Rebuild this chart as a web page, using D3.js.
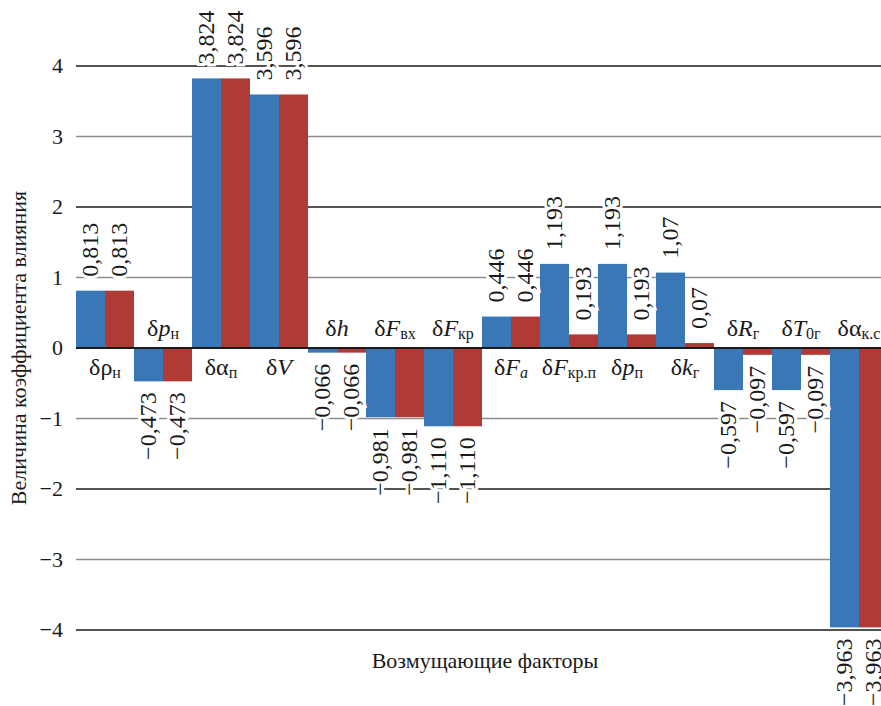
<!DOCTYPE html>
<html>
<head>
<meta charset="utf-8">
<script src="https://cdn.jsdelivr.net/npm/d3@7"></script>
</head>
<body style="margin:0">
<script>
// factor symbols and their subscripts
const catSymbol = ["ρ", "p", "α", "V", "h", "F", "F", "F", "F", "p", "k", "R", "T", "α"];
const catIndex = ["н", "н", "п", "", "", "вх", "кр", "a", "кр.п", "п", "г", "г", "0г", "к.с"];

const blueValues = [0.813, -0.473, 3.824, 3.596, -0.066, -0.981, -1.110, 0.446, 1.193, 1.193, 1.07, -0.597, -0.597, -3.963];
const redValues = [0.813, -0.473, 3.824, 3.596, -0.066, -0.981, -1.110, 0.446, 0.193, 0.193, 0.07, -0.097, -0.097, -3.963];
const blueLabels = ["0,813", "−0,473", "3,824", "3,596", "−0,066", "−0,981", "−1,110", "0,446", "1,193", "1,193", "1,07", "−0,597", "−0,597", "−3,963"];
const redLabels = ["0,813", "−0,473", "3,824", "3,596", "−0,066", "−0,981", "−1,110", "0,446", "0,193", "0,193", "0,07", "−0,097", "−0,097", "−3,963"];

const yTicks = [-4, -3, -2, -1, 0, 1, 2, 3, 4];
const yTitle = "Величина коэффициента влияния";
const xTitle = "Возмущающие факторы";

const W = 881, H = 706;
const left = 76, groupW = 58;
const FONT = `"Liberation Serif"`;
const ink = "#1a1a1a";

const svg = d3.select("body").append("svg").attr("width", W).attr("height", H);

const x = d3.scaleBand().domain(d3.range(catSymbol.length)).range([left, left + groupW * catSymbol.length]).padding(0);
const xs = d3.scaleBand().domain(["b", "r"]).range([0, x.bandwidth()]);
const y = d3.scaleLinear().domain([-4, 4]).range([630, 66]);

// grid lines
svg.append("g").selectAll("line")
  .data(yTicks)
  .join("line")
  .attr("x1", left).attr("x2", W)
  .attr("y1", d => y(d)).attr("y2", d => y(d))
  .attr("stroke", d => d % 2 === 0 ? ink : "#8c8c8c")
  .attr("stroke-width", d => d === 0 ? 2 : 1.6);

// tick labels
svg.append("g").selectAll("text")
  .data(yTicks)
  .join("text")
  .attr("x", left - 13)
  .attr("y", d => y(d))
  .attr("dy", "0.32em")
  .attr("text-anchor", "end")
  .attr("fill", ink)
  .style("font-family", FONT)
  .style("font-size", "22px")
  .text(d => d < 0 ? "−" + Math.abs(d) : d);

const series = [
  { key: "b", values: blueValues, labels: blueLabels, fill: "#3a77b6" },
  { key: "r", values: redValues, labels: redLabels, fill: "#b03a36" },
];

for (const s of series) {
  svg.append("g").selectAll("rect")
    .data(s.values)
    .join("rect")
    .attr("x", (d, i) => x(i) + xs(s.key))
    .attr("width", xs.bandwidth())
    .attr("y", d => y(Math.max(0, d)))
    .attr("height", d => Math.abs(y(d) - y(0)))
    .attr("fill", s.fill);
}

// zero line on top of bars
svg.append("line")
  .attr("x1", left).attr("x2", W)
  .attr("y1", y(0)).attr("y2", y(0))
  .attr("stroke", ink).attr("stroke-width", 2);

// value labels, rotated
for (const s of series) {
  svg.append("g").selectAll("text")
    .data(s.values)
    .join("text")
    .attr("transform", (d, i) => {
      const cx = x(i) + xs(s.key) + xs.bandwidth() / 2;
      const cy = d >= 0 ? y(d) - 14 : y(d) + 11;
      return `translate(${cx},${cy}) rotate(-90)`;
    })
    .attr("text-anchor", d => d >= 0 ? "start" : "end")
    .attr("dy", "0.33em")
    .attr("fill", ink)
    .attr("stroke", "#fff")
    .attr("stroke-width", 6)
    .attr("paint-order", "stroke")
    .style("font-family", FONT)
    .style("font-size", "24px")
    .text((d, i) => s.labels[i]);
}

// factor names
const isLatin = t => /[A-Za-z]/.test(t);
const catLabels = svg.append("g").selectAll("text")
  .data(catSymbol)
  .join("text")
  .attr("x", (d, i) => x(i) + x.bandwidth() / 2)
  .attr("y", (d, i) => blueValues[i] >= 0 ? y(0) + 27 : y(0) - 12)
  .attr("text-anchor", "middle")
  .attr("fill", ink)
  .style("font-family", FONT)
  .style("font-size", "24px");
catLabels.append("tspan").style("font-family", FONT).text("δ");
catLabels.append("tspan")
  .style("font-family", FONT)
  .style("font-style", d => isLatin(d) ? "italic" : "normal")
  .text(d => d);
catLabels.append("tspan")
  .attr("dy", 3)
  .style("font-family", FONT)
  .style("font-size", "16px")
  .style("font-style", (d, i) => isLatin(catIndex[i]) ? "italic" : "normal")
  .text((d, i) => catIndex[i]);

// axis titles
svg.append("text")
  .attr("transform", `translate(18,${(66 + 630) / 2}) rotate(-90)`)
  .attr("text-anchor", "middle")
  .attr("dy", "0.35em")
  .attr("fill", ink)
  .style("font-family", FONT)
  .style("font-size", "22px")
  .text(yTitle);

svg.append("text")
  .attr("x", 485).attr("y", 668)
  .attr("text-anchor", "middle")
  .attr("fill", ink)
  .style("font-family", FONT)
  .style("font-size", "22px")
  .text(xTitle);
</script>
</body>
</html>
